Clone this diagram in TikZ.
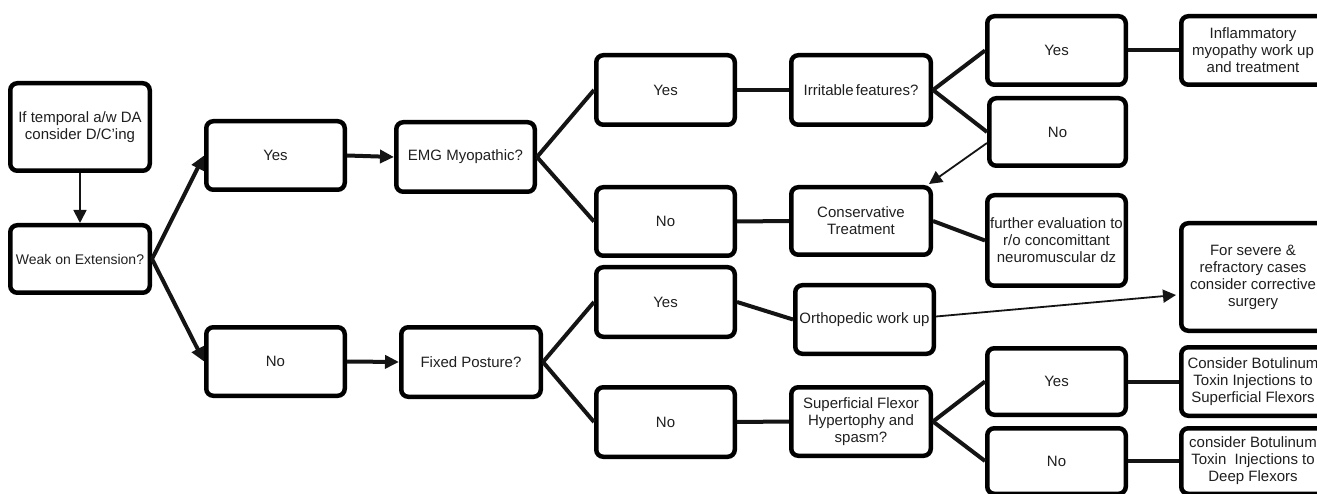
\documentclass[tikz,border=0pt]{standalone}
\usepackage{fontspec}
\setmainfont{Liberation Sans}
\usetikzlibrary{arrows.meta,calc}
\begin{document}
\begin{tikzpicture}[x=1pt,y=-1pt,
  box/.style={draw=black, line width=4.5pt, rounded corners=7pt, align=center,
    inner sep=0pt, text=black!88, font=\fontsize{15}{17}\selectfont},
  std/.style={box, minimum width=138.5pt, minimum height=68.5pt},
  link/.style={line width=4pt, draw=black!92},
  linkarrow/.style={link, -{Triangle[length=14pt,width=13pt]}},
  thinarrow/.style={line width=1.8pt, draw=black!92, -{Triangle[length=13pt,width=13pt]}}]
\useasboundingbox (0,0) rectangle (1317,494);

% column 1
\node[box, minimum width=139.5pt, minimum height=87.5pt] (tmp) at (80,127) {If temporal a/w DA\\consider D/C'ing};
\node[box, minimum width=139.5pt, minimum height=67.5pt, font=\fontsize{14}{16}\selectfont] (weak) at (80,259) {Weak on Extension?};
% column 2
\node[std] (yes1) at (275.5,155.5) {Yes};
\node[std] (no1) at (275.5,361.5) {No};
% column 3
\node[std, minimum height=69.5pt] (emg) at (465.5,157) {EMG Myopathic?};
\node[std, minimum width=139.5pt, minimum height=69.5pt] (fixed) at (471,362) {Fixed Posture?};
% column 4
\node[std, minimum height=69.5pt] (yes2) at (665.5,90) {Yes};
\node[std] (no2) at (665.5,221.5) {No};
\node[std, minimum height=69.5pt] (yesF) at (665.5,302) {Yes};
\node[std, minimum height=69.5pt] (noF) at (665.5,422) {No};
% column 5
\node[std, minimum width=139.5pt, minimum height=69.5pt] (irr) at (861,90) {Irritable\kern2.2pt features?};
\node[std, minimum width=139.5pt, minimum height=67.5pt] (cons) at (861,221) {Conservative\\Treatment};
\node[std] (orth) at (864.5,319.5) {Orthopedic work up};
\node[std, minimum width=139.5pt] (sup) at (861,421.5) {Superficial Flexor\\Hypertophy and\\spasm?};
% column 6
\node[std] (yesI) at (1056.5,50.5) {Yes};
\node[std, minimum width=136.5pt, minimum height=67.5pt] (noI) at (1057.5,132) {No};
\node[std, minimum height=90.5pt] (further) at (1056.5,240.5) {further evaluation to\\r/o concomittant\\neuromuscular dz};
\node[std, minimum height=66.5pt] (yesS) at (1056.5,381.5) {Yes};
\node[std, minimum height=65.5pt] (noS) at (1056.5,461) {No};
% column 7
\node[box, minimum width=143.5pt, minimum height=68.5pt] (infl) at (1253,50.5) {Inflammatory\\myopathy work up\\and treatment};
\node[box, minimum width=143.5pt, minimum height=107.5pt] (severe) at (1253,277) {For severe \&\\refractory cases\\consider corrective\\surgery};
\node[box, minimum width=143.5pt, minimum height=68.5pt] (botS) at (1253,381.5) {Consider Botulinum\\Toxin Injections to\\Superficial Flexors};
\node[box, minimum width=143.5pt, minimum height=65.5pt] (botD) at (1253,461) {consider Botulinum\\Toxin~ Injections to\\Deep Flexors};

% connectors
\draw[thinarrow] (tmp) -- (weak);
\draw[linkarrow] (weak.east) -- (yes1.west);
\draw[linkarrow] (weak.east) -- (no1.west);
\draw[linkarrow] (yes1.east) -- (emg.west);
\draw[linkarrow] (no1.east) -- (fixed.west);
\draw[link] (emg.east) -- (yes2.west);
\draw[link] (emg.east) -- (no2.west);
\draw[link] (yes2.east) -- (irr.west);
\draw[link] (no2.east) -- (cons.west);
\draw[link] (irr.east) -- (yesI.west);
\draw[link] (irr.east) -- (noI.west);
\draw[link] (cons.east) -- (further.west);
\draw[link] (yesI.east) -- (infl.west);
\draw[link] (fixed.east) -- (yesF.west);
\draw[link] (fixed.east) -- (noF.west);
\draw[link] (yesF.east) -- (orth.west);
\draw[link] (noF.east) -- (sup.west);
\draw[link] (sup.east) -- (yesS.west);
\draw[link] (sup.east) -- (noS.west);
\draw[link] (yesS.east) -- (botS.west);
\draw[link] (noS.east) -- (botD.west);
\draw[thinarrow] ($(noI.west)+(0,11)$) -- ($(cons.north east)+(-4,-1)$);
\draw[thinarrow] ($(orth.east)+(0,-3)$) -- ($(severe.west)+(-3,18)$);
\end{tikzpicture}
\end{document}
